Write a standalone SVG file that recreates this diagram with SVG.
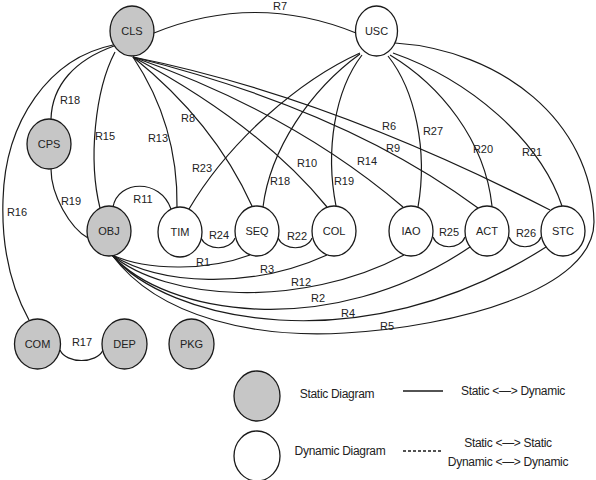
<svg xmlns="http://www.w3.org/2000/svg" width="596" height="480" viewBox="0 0 596 480">
<style>
.e{fill:none;stroke:#1a1a1a;stroke-width:1.2}
.s{fill:#c6c6c6;stroke:#1a1a1a;stroke-width:1.3}
.d{fill:#fff;stroke:#1a1a1a;stroke-width:1.3}
text{font-family:"Liberation Sans",Arial,sans-serif;font-size:11px;fill:#222;text-anchor:middle}
.lg{font-size:12px;letter-spacing:-0.3px}
</style>
<rect width="596" height="480" fill="#fff"/>
<g id="connectors">
<path class="e" d="M154,33 Q255,-8 356,33"/>
<path class="e" d="M114,46 C75,60 52,85 51,119"/>
<path class="e" d="M51,169 C51,195 70,228 88,238"/>
<path class="e" d="M113,45 C50,58 5,120 3,200 C1,260 18,300 29,320"/>
<path class="e" d="M115,52 C95,90 88,160 100,208"/>
<path class="e" d="M133,57 C155,90 178,140 177,207"/>
<path class="e" d="M133,57 Q214,122 252,206"/>
<path class="e" d="M133,57 Q260,125 327,207"/>
<path class="e" d="M133,57 Q293,113 403,207"/>
<path class="e" d="M133,57 Q346,110 478,208"/>
<path class="e" d="M133,57 Q328,96 550,210"/>
<path class="e" d="M360,53 C300,80 230,140 189,209"/>
<path class="e" d="M360,54 C310,90 270,150 263,207"/>
<path class="e" d="M362,55 C335,90 325,150 336,206"/>
<path class="e" d="M388,56 C415,90 428,150 418,207"/>
<path class="e" d="M390,55 C440,85 485,140 492,206"/>
<path class="e" d="M393,53 C470,80 540,140 562,206"/>
<path class="e" d="M113,207 C118,180 160,178 171,209"/>
<path class="e" d="M201,238 C207,251 230,251 235,238"/>
<path class="e" d="M278,238 C284,251 307,251 312,238"/>
<path class="e" d="M433,237 C438,250 460,250 465,237"/>
<path class="e" d="M509,237 C514,250 536,250 541,237"/>
<path class="e" d="M60,350 C66,364 97,364 103,350"/>
<path class="e" d="M112,255 C150,272 210,270 250,255"/>
<path class="e" d="M112,255 C160,285 250,290 327,255"/>
<path class="e" d="M112,255 C165,300 300,310 404,255"/>
<path class="e" d="M112,255 C165,315 330,342 470,247"/>
<path class="e" d="M112,255 C165,320 360,366 546,247"/>
<path class="e" d="M112,255 C160,320 260,338 345,333 C455,326.5 594,290 594,222 C592,120 500,50 395,43"/>
</g>
<g id="edge-labels">
<text x="280" y="10">R7</text>
<text x="70" y="104">R18</text>
<text x="105" y="140">R15</text>
<text x="158" y="142">R13</text>
<text x="188" y="122">R8</text>
<text x="389" y="130">R6</text>
<text x="433" y="135">R27</text>
<text x="393" y="152">R9</text>
<text x="483" y="153">R20</text>
<text x="532" y="156">R21</text>
<text x="202" y="172">R23</text>
<text x="307" y="167">R10</text>
<text x="367" y="165">R14</text>
<text x="280" y="185">R18</text>
<text x="344" y="185">R19</text>
<text x="17" y="216">R16</text>
<text x="71" y="205">R19</text>
<text x="143" y="203">R11</text>
<text x="219" y="239">R24</text>
<text x="297" y="240">R22</text>
<text x="449" y="236">R25</text>
<text x="526" y="237">R26</text>
<text x="203" y="266">R1</text>
<text x="267" y="273">R3</text>
<text x="301" y="286">R12</text>
<text x="318" y="302">R2</text>
<text x="348" y="317">R4</text>
<text x="387" y="330">R5</text>
<text x="82" y="346">R17</text>
</g>
<g id="CLS"><ellipse class="s" cx="132" cy="31" rx="22" ry="25"/><text x="132" y="35">CLS</text></g>
<g id="USC"><ellipse class="d" cx="376.5" cy="31" rx="21" ry="25"/><text x="376.5" y="35">USC</text></g>
<g id="CPS"><ellipse class="s" cx="49" cy="144" rx="22" ry="25"/><text x="49" y="148">CPS</text></g>
<g id="OBJ"><ellipse class="s" cx="109" cy="231" rx="22" ry="25"/><text x="109" y="235">OBJ</text></g>
<g id="TIM"><ellipse class="d" cx="180" cy="232" rx="22" ry="25"/><text x="180" y="236">TIM</text></g>
<g id="SEQ"><ellipse class="d" cx="257" cy="231" rx="22" ry="25"/><text x="257" y="235">SEQ</text></g>
<g id="COL"><ellipse class="d" cx="334" cy="231" rx="22" ry="25"/><text x="334" y="235">COL</text></g>
<g id="IAO"><ellipse class="d" cx="411" cy="231" rx="22" ry="25"/><text x="411" y="235">IAO</text></g>
<g id="ACT"><ellipse class="d" cx="487" cy="231" rx="22" ry="25"/><text x="487" y="235">ACT</text></g>
<g id="STC"><ellipse class="d" cx="563" cy="231" rx="22" ry="25"/><text x="563" y="235">STC</text></g>
<g id="COM"><ellipse class="s" cx="37.5" cy="344" rx="23" ry="25"/><text x="37.5" y="348">COM</text></g>
<g id="DEP"><ellipse class="s" cx="124.5" cy="344" rx="22.5" ry="25"/><text x="124.5" y="348">DEP</text></g>
<g id="PKG"><ellipse class="s" cx="191.5" cy="344" rx="22.5" ry="25"/><text x="191.5" y="348">PKG</text></g>
<g id="legend">
<ellipse class="s" cx="257" cy="396" rx="23" ry="25"/>
<ellipse class="d" cx="257" cy="456" rx="23" ry="25"/>
<text class="lg" x="337" y="398">Static Diagram</text>
<text class="lg" x="340" y="455">Dynamic Diagram</text>
<line x1="403" y1="391" x2="443" y2="391" stroke="#1a1a1a" stroke-width="1.3"/>
<line x1="403" y1="451" x2="443" y2="451" stroke="#1a1a1a" stroke-width="1.3" stroke-dasharray="3,2"/>
<text class="lg" x="513" y="395">Static &lt;—&gt; Dynamic</text>
<text class="lg" x="508" y="447">Static &lt;—&gt; Static</text>
<text class="lg" x="508" y="466">Dynamic &lt;—&gt; Dynamic</text>
</g>
</svg>
